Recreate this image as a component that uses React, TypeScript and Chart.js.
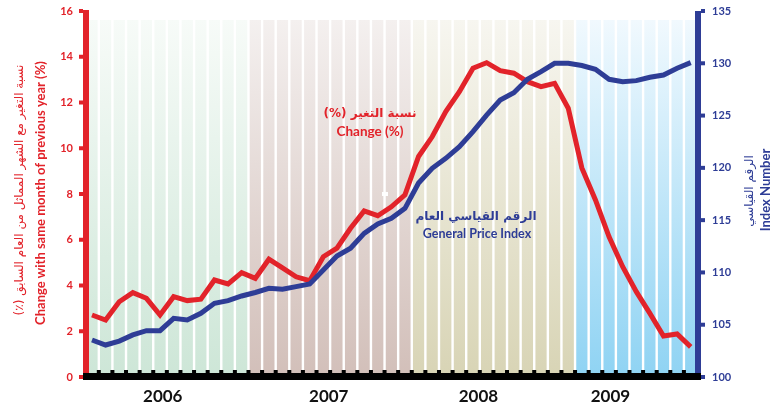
import React, { useEffect, useRef } from 'react';
import { Chart, registerables } from 'chart.js';

Chart.register(...registerables);

// ---------- data ----------
const months = [
  'Jan 2006', 'Feb 2006', 'Mar 2006', 'Apr 2006', 'May 2006', 'Jun 2006', 'Jul 2006', 'Aug 2006', 'Sep 2006', 'Oct 2006', 'Nov 2006', 'Dec 2006',
  'Jan 2007', 'Feb 2007', 'Mar 2007', 'Apr 2007', 'May 2007', 'Jun 2007', 'Jul 2007', 'Aug 2007', 'Sep 2007', 'Oct 2007', 'Nov 2007', 'Dec 2007',
  'Jan 2008', 'Feb 2008', 'Mar 2008', 'Apr 2008', 'May 2008', 'Jun 2008', 'Jul 2008', 'Aug 2008', 'Sep 2008', 'Oct 2008', 'Nov 2008', 'Dec 2008',
  'Jan 2009', 'Feb 2009', 'Mar 2009', 'Apr 2009', 'May 2009', 'Jun 2009', 'Jul 2009', 'Aug 2009', 'Sep 2009',
];

const years = ['2006', '2007', '2008', '2009'];

// Change with same month of previous year (%)
const changePct = [
  2.71, 2.49, 3.29, 3.69, 3.44, 2.71, 3.51, 3.34, 3.40, 4.24, 4.07, 4.56,
  4.31, 5.15, 4.77, 4.38, 4.21, 5.26, 5.63, 6.50, 7.26, 7.05, 7.44, 7.96,
  9.64, 10.50, 11.60, 12.47, 13.50, 13.74, 13.39, 13.28, 12.91, 12.69, 12.84, 11.75,
  9.14, 7.74, 6.13, 4.82, 3.73, 2.78, 1.79, 1.88, 1.32,
];

// General Price Index
const priceIndex = [
  103.54, 103.06, 103.44, 104.02, 104.43, 104.43, 105.61, 105.45, 106.09, 107.05, 107.30, 107.75,
  108.08, 108.48, 108.39, 108.64, 108.89, 110.23, 111.57, 112.31, 113.74, 114.63, 115.18, 116.13,
  118.55, 119.96, 120.91, 122.02, 123.46, 125.05, 126.49, 127.19, 128.47, 129.20, 130.00, 130.00,
  129.79, 129.43, 128.47, 128.24, 128.34, 128.66, 128.88, 129.52, 130.06,
];

const leftTicks = [0, 2, 4, 6, 8, 10, 12, 14, 16];
const rightTicks = [100, 105, 110, 115, 120, 125, 130, 135];

const leftTitle = ['نسبة التغير مع الشهر المماثل من العام السابق (٪)', 'Change with same month of previous year (%)'];
const rightTitle = ['الرقم القياسي', 'Index Number'];
const changeLabel = ['نسبة التغير (%)', 'Change (%)'];
const indexLabel = ['الرقم القياسي العام', 'General Price Index'];

// ---------- styling ----------
const RED = '#e2232a';
const BLUE = '#2e3d96';
const FONT = 'Lato, "DejaVu Sans", sans-serif';
const ARFONT = '"DejaVu Sans", sans-serif';

const bandColors = [
  ['#f7fbf8', '#cde6d7'],
  ['#f4f0ef', '#d2bfb9'],
  ['#f7f6f0', '#d8d4b5'],
  ['#f1f9fe', '#8fd3f3'],
];

const decorPlugin = {
  id: 'decor',
  beforeDatasetsDraw(chart: any) {
    const { ctx, chartArea: a, scales } = chart;
    const xs = scales.x;
    const px = (v: number) => xs.getPixelForValue(v);
    const left = a.left + 3;
    const right = a.right - 3;
    const top = a.top + 9;
    const bottom = a.bottom;
    const edges = [left, px(11.5), px(23.5), px(35.5), right];
    ctx.save();
    for (let b = 0; b < 4; b++) {
      const g = ctx.createLinearGradient(0, top, 0, bottom);
      g.addColorStop(0, bandColors[b][0]);
      g.addColorStop(1, bandColors[b][1]);
      ctx.fillStyle = g;
      ctx.fillRect(edges[b], top, edges[b + 1] - edges[b], bottom - top);
    }
    ctx.fillStyle = '#ffffff';
    for (let k = 0; k < months.length; k++) {
      const xp = px(k + 0.5);
      if (xp > left && xp < right) ctx.fillRect(xp - 1.2, top, 2.4, bottom - top);
    }
    // small white mark
    ctx.fillRect(382, 192, 6, 4);
    ctx.restore();
  },
  afterDatasetsDraw(chart: any) {
    const { ctx, chartArea: a, scales } = chart;
    const xs = scales.x;
    const yl = scales.yL;
    const yr = scales.yR;
    ctx.save();
    // left axis bar
    ctx.fillStyle = RED;
    ctx.fillRect(a.left - 3, a.top - 1, 6, a.bottom - a.top + 2);
    // right axis bar
    ctx.fillStyle = BLUE;
    ctx.fillRect(a.right - 3, a.top, 6, a.bottom - a.top + 2);
    // bottom bar
    ctx.fillStyle = '#000000';
    ctx.fillRect(a.left - 3, a.bottom - 4, a.right - a.left + 6, 7);
    for (let k = 0; k < months.length; k++) {
      const xp = xs.getPixelForValue(k + 0.5);
      if (xp > a.left + 2 && xp < a.right - 2) ctx.fillRect(xp - 2, a.bottom - 7, 4, 3);
    }
    // left ticks
    ctx.font = `bold 11px ${FONT}`;
    ctx.textBaseline = 'middle';
    ctx.textAlign = 'right';
    for (const t of leftTicks) {
      const y = yl.getPixelForValue(t);
      ctx.fillStyle = RED;
      ctx.fillRect(a.left - 7, y - 2, 4, 4);
      ctx.fillText(String(t), a.left - 13, y);
    }
    // right ticks
    ctx.textAlign = 'left';
    for (const t of rightTicks) {
      const y = yr.getPixelForValue(t);
      ctx.fillStyle = BLUE;
      ctx.fillRect(a.right + 3, y - 2, 4, 4);
      ctx.fillText(String(t), a.right + 14, y);
    }
    // year labels
    const yearPos = [5.2, 17.4, 28.4, 38.1];
    ctx.fillStyle = '#111111';
    ctx.font = `bold 17px ${FONT}`;
    ctx.textAlign = 'center';
    years.forEach((yr2, i) => {
      ctx.fillText(yr2, xs.getPixelForValue(yearPos[i]), 397);
    });

    const rotated = (text: string, x: number, y: number, font: string, color: string, rtl: boolean) => {
      ctx.save();
      ctx.translate(x, y);
      ctx.rotate(-Math.PI / 2);
      ctx.font = font;
      ctx.fillStyle = color;
      ctx.textAlign = 'center';
      ctx.textBaseline = 'middle';
      (ctx as any).direction = rtl ? 'rtl' : 'ltr';
      ctx.fillText(text, 0, 0);
      ctx.restore();
    };
    const plain = (text: string, x: number, y: number, font: string, color: string, rtl: boolean) => {
      ctx.save();
      ctx.font = font;
      ctx.fillStyle = color;
      ctx.textAlign = 'center';
      ctx.textBaseline = 'middle';
      (ctx as any).direction = rtl ? 'rtl' : 'ltr';
      ctx.fillText(text, x, y);
      ctx.restore();
    };
    // axis titles
    rotated(leftTitle[0], 20, 190, `12px ${ARFONT}`, RED, true);
    rotated(leftTitle[1], 41, 193, `bold 13px ${FONT}`, RED, false);
    rotated(rightTitle[0], 750, 191, `12px ${ARFONT}`, BLUE, true);
    rotated(rightTitle[1], 766, 190, `bold 13px ${FONT}`, BLUE, false);
    // series annotations
    plain(changeLabel[0], 370, 114, `bold 12px ${ARFONT}`, RED, true);
    plain(changeLabel[1], 370, 132, `bold 13.5px ${FONT}`, RED, false);
    plain(indexLabel[0], 476, 217, `bold 12px ${ARFONT}`, BLUE, true);
    plain(indexLabel[1], 477, 234, `bold 12.5px ${FONT}`, BLUE, false);
    ctx.restore();
  },
};

export default function App() {
  const ref = useRef<HTMLCanvasElement | null>(null);
  useEffect(() => {
    if (!ref.current) return;
    const chart = new Chart(ref.current, {
      type: 'line',
      data: {
        labels: months,
        datasets: [
          {
            label: indexLabel[1],
            data: priceIndex.map((v, i) => ({ x: i, y: v })),
            yAxisID: 'yR',
            borderColor: BLUE,
            borderWidth: 5,
            pointRadius: 0,
            tension: 0,
            fill: false,
          },
          {
            label: changeLabel[1],
            data: changePct.map((v, i) => ({ x: i, y: v })),
            yAxisID: 'yL',
            borderColor: RED,
            borderWidth: 5,
            pointRadius: 0,
            tension: 0,
            fill: false,
          },
        ],
      },
      options: {
        responsive: false,
        animation: false,
        layout: { padding: { left: 86, right: 76, top: 11, bottom: 32 } },
        plugins: { legend: { display: false }, tooltip: { enabled: false }, title: { display: false } },
        scales: {
          x: { type: 'linear', min: -0.441, max: 44.536, display: false },
          yL: { type: 'linear', position: 'left', min: 0, max: 16, display: false },
          yR: { type: 'linear', position: 'right', min: 100, max: 135, display: false },
        },
      },
      plugins: [decorPlugin],
    });
    return () => chart.destroy();
  }, []);
  return (
    <div style={{ position: 'fixed', left: 0, top: 0, width: 774, height: 409, background: '#ffffff' }}>
      <canvas ref={ref} width={774} height={409} style={{ display: 'block', width: 774, height: 409 }} />
    </div>
  );
}
